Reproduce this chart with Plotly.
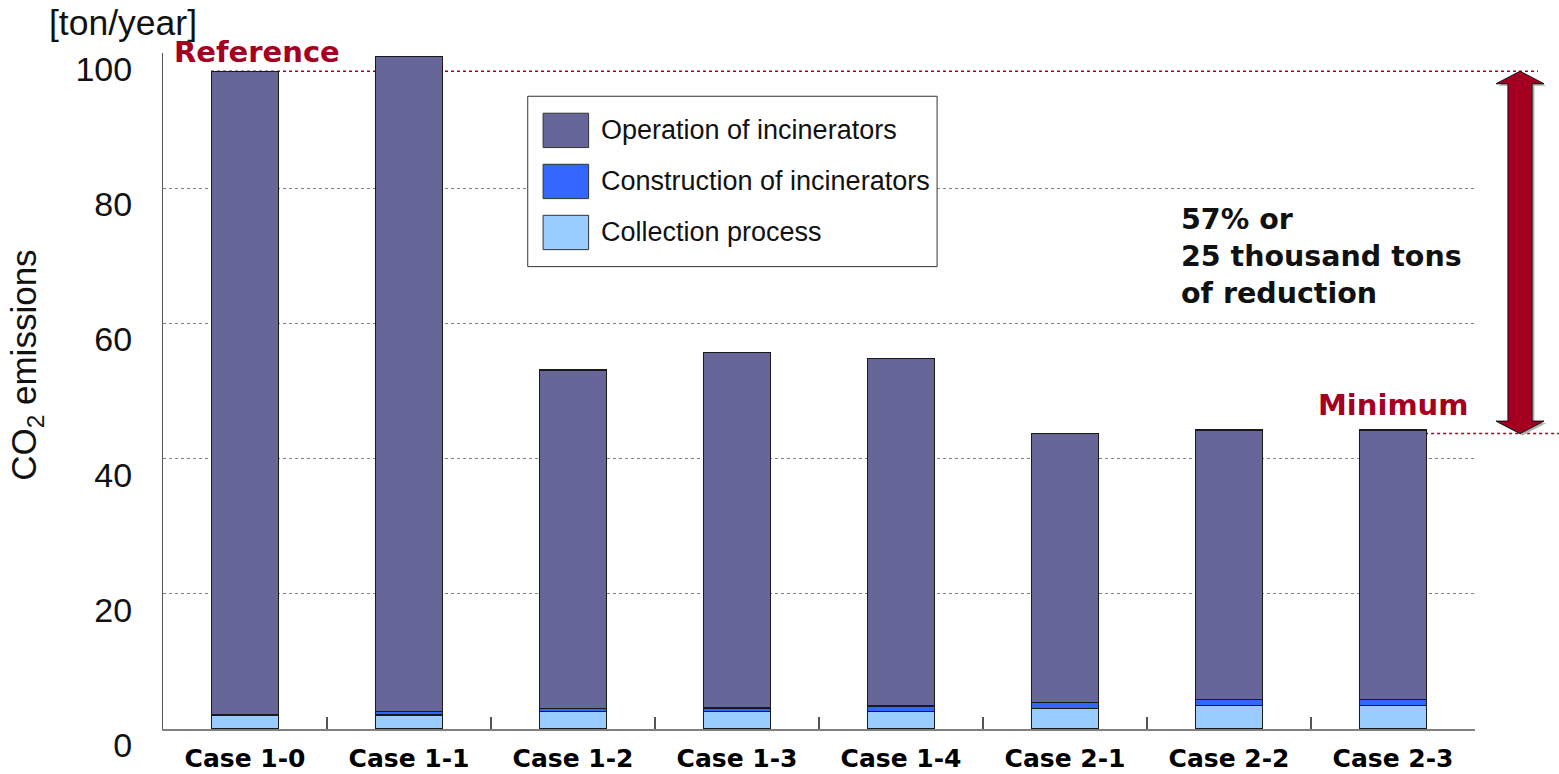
import plotly.graph_objects as go

# Annual CO2 emissions by case, split by source [ton/year]
cases = ["Case 1-0", "Case 1-1", "Case 1-2", "Case 1-3",
         "Case 1-4", "Case 2-1", "Case 2-2", "Case 2-3"]
collection = [2.1, 2.1, 2.6, 2.6, 2.6, 3.0, 3.5, 3.5]
construction = [0.0, 0.5, 0.4, 0.5, 0.8, 0.9, 0.9, 0.9]
operation = [95.2, 96.9, 50.1, 52.6, 51.4, 39.8, 39.8, 39.8]
y_ticks = [0, 20, 40, 60, 80, 100]

series_names = ["Operation of incinerators", "Construction of incinerators", "Collection process"]
series_colors = ["#666699", "#3366FF", "#99CCFF"]

totals = [a + b + c for a, b, c in zip(collection, construction, operation)]
ref_total = totals[0]
min_total = min(totals)

DARK_RED = "#A50021"
BAR_W = 0.41

fig = go.Figure()
for name, vals, color in [(series_names[2], collection, series_colors[2]),
                          (series_names[1], construction, series_colors[1]),
                          (series_names[0], operation, series_colors[0])]:
    fig.add_trace(go.Bar(
        x=cases, y=vals, name=name, width=BAR_W,
        marker=dict(color=color, line=dict(color="#1a1a1a", width=1.5)),
        showlegend=False,
    ))

shapes = []
# dotted guide lines at the reference and minimum totals
shapes.append(dict(type="line", xref="paper", yref="y", layer="between",
                   x0=0.0366, x1=1.048, y0=ref_total, y1=ref_total,
                   line=dict(color=DARK_RED, width=1.5, dash="dot")))
shapes.append(dict(type="line", xref="paper", yref="y", layer="between",
                   x0=0.93, x1=1.07, y0=min_total, y1=min_total,
                   line=dict(color=DARK_RED, width=1.5, dash="dot")))


def arrow_path(cx, y_top, y_bot, dx=0.0, dy=0.0):
    hw = 0.0183   # half head width (paper)
    sw = 0.0092   # half shaft width (paper)
    hh = 1.85     # head height (data units)
    pts = [(cx, y_top), (cx + hw, y_top - hh), (cx + sw, y_top - hh),
           (cx + sw, y_bot + hh), (cx + hw, y_bot + hh), (cx, y_bot),
           (cx - hw, y_bot + hh), (cx - sw, y_bot + hh), (cx - sw, y_top - hh),
           (cx - hw, y_top - hh)]
    return "M" + " L".join(f"{x + dx},{y + dy}" for x, y in pts) + " Z"


arrow_cx = 1.0343
shapes.append(dict(type="path", xref="paper", yref="y", layer="above",
                   path=arrow_path(arrow_cx, ref_total, min_total, 0.0018, -0.3),
                   fillcolor="#b0b0b0", line=dict(width=0)))
shapes.append(dict(type="path", xref="paper", yref="y", layer="above",
                   path=arrow_path(arrow_cx, ref_total, min_total),
                   fillcolor=DARK_RED, line=dict(color="#111111", width=1)))

# legend box drawn by hand
lg_x0, lg_x1, lg_y0, lg_y1 = 0.278, 0.590, 0.684, 0.936
shapes.append(dict(type="rect", xref="paper", yref="paper", layer="above",
                   x0=lg_x0, x1=lg_x1, y0=lg_y0, y1=lg_y1,
                   fillcolor="white", line=dict(color="#333333", width=1)))
row_centers = [0.8855, 0.810, 0.7345]
sw_x0, sw_x1, sw_h = 0.2897, 0.3244, 0.0254
annotations = []
for name, color, yc in zip(series_names, series_colors, row_centers):
    shapes.append(dict(type="rect", xref="paper", yref="paper", layer="above",
                       x0=sw_x0, x1=sw_x1, y0=yc - sw_h, y1=yc + sw_h,
                       fillcolor=color, line=dict(color="#333333", width=1)))
    annotations.append(dict(xref="paper", yref="paper", x=0.3325, y=yc,
                            xanchor="left", yanchor="middle", showarrow=False,
                            text=name, font=dict(family="Liberation Sans, Arial", size=27, color="#111111")))

annotations += [
    dict(xref="paper", yref="paper", x=-0.104, y=0.538, textangle=-90,
         xanchor="center", yanchor="middle",
         text="CO<sub>2</sub> emissions", showarrow=False,
         font=dict(family="Liberation Sans, Arial", size=35, color="#111111")),
    dict(xref="paper", yref="paper", x=-0.0885, y=1.045, xanchor="left", yanchor="middle",
         text="[ton/year]", showarrow=False,
         font=dict(family="Liberation Sans, Arial", size=35.5, color="#111111")),
    dict(xref="paper", yref="paper", x=0.0069, y=1.001, xanchor="left", yanchor="middle",
         text="<b>Reference</b>", showarrow=False,
         font=dict(family="DejaVu Sans", size=29, color=DARK_RED)),
    dict(xref="paper", yref="paper", x=0.996, y=0.479, xanchor="right", yanchor="middle",
         text="<b>Minimum</b>", showarrow=False,
         font=dict(family="DejaVu Sans", size=29, color=DARK_RED)),
    dict(xref="paper", yref="paper", x=0.7745, y=0.781, xanchor="left", yanchor="top",
         align="left", showarrow=False,
         text="<b>57% or<br>25 thousand tons<br>of reduction</b>",
         font=dict(family="DejaVu Sans", size=28.5, color="#111111")),
]

fig.update_layout(
    barmode="stack",
    width=1559, height=774,
    margin=dict(l=163, r=84, t=53, b=45, autoexpand=False),
    plot_bgcolor="white", paper_bgcolor="white",
    shapes=shapes, annotations=annotations,
    showlegend=False,
    bargap=0.59,
)
fig.update_xaxes(
    type="category", categoryorder="array", categoryarray=cases,
    showline=True, linecolor="#808080", linewidth=2,
    ticks="inside", tickson="boundaries", ticklen=12, tickcolor="#555555", tickwidth=1.5,
    showgrid=False, automargin=False,
    tickfont=dict(family="DejaVu Sans", size=25, color="#000000", weight="bold"),
    ticklabelstandoff=6,
)
fig.update_yaxes(
    range=[0, 100], tickvals=y_ticks, ticktext=[str(v) for v in y_ticks],
    showline=True, linecolor="#555555", linewidth=1,
    showgrid=True, gridcolor="#808080", gridwidth=1, griddash="dot",
    zeroline=False, ticks="", automargin=False,
    tickfont=dict(family="Liberation Sans, Arial", size=34, color="#111111"),
    ticklabelshift=16, ticklabelstandoff=23,
)

fig.write_html("out.html")
